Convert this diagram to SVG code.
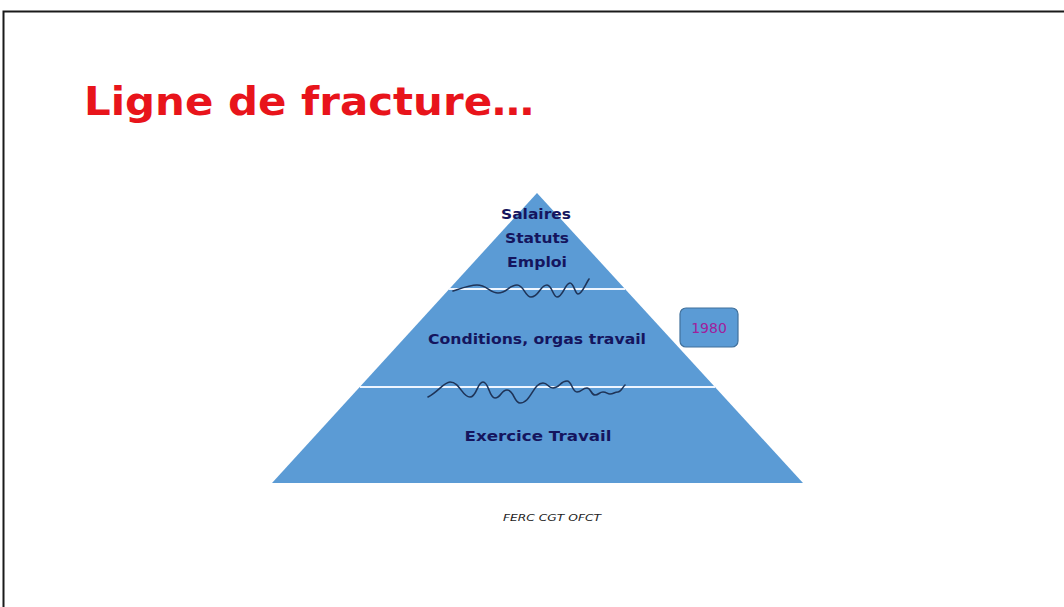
<svg xmlns="http://www.w3.org/2000/svg" width="1064" height="607" viewBox="0 0 1064 607">
  <style>
    .title { font-family: "DejaVu Sans", "Liberation Sans", sans-serif; font-weight: bold; font-size: 39px; fill: #e8141b; }
    .lbl { font-family: "DejaVu Sans", "Liberation Sans", sans-serif; font-weight: bold; fill: #15155e; text-anchor: middle; }
    .crack { fill: none; stroke: #1f3458; stroke-width: 1.6; stroke-linejoin: round; stroke-linecap: round; }
    .divider { stroke: #eef5ff; stroke-width: 2; }
  </style>
  <rect x="0" y="0" width="1064" height="607" fill="#ffffff"/>
  <!-- slide frame -->
  <path d="M3.5,607 V11.5 H1064" fill="none" stroke="#1a1a1a" stroke-width="2"/>

  <text class="title" x="84" y="115" textLength="450" lengthAdjust="spacingAndGlyphs">Ligne de fracture…</text>

  <g id="pyramid">
    <polygon points="537,193 803,483 272,483" fill="#5b9bd5"/>
    <line class="divider" x1="449" y1="289" x2="625" y2="289"/>
    <line class="divider" x1="360" y1="387" x2="715" y2="387"/>
  </g>

  <g id="tier-top">
    <text class="lbl" x="536" y="219" font-size="13.5" textLength="70" lengthAdjust="spacingAndGlyphs">Salaires</text>
    <text class="lbl" x="537" y="243" font-size="13.5" textLength="64" lengthAdjust="spacingAndGlyphs">Statuts</text>
    <text class="lbl" x="537" y="267" font-size="13.5" textLength="60" lengthAdjust="spacingAndGlyphs">Emploi</text>
  </g>
  <g id="tier-middle">
    <text class="lbl" x="537" y="344" font-size="13.5" textLength="218" lengthAdjust="spacingAndGlyphs">Conditions, orgas travail</text>
  </g>
  <g id="tier-base">
    <text class="lbl" x="538" y="441" font-size="14.5" textLength="147" lengthAdjust="spacingAndGlyphs">Exercice Travail</text>
  </g>

  <g id="connectors">
    <path class="crack" d="M453,291 C465,287 470,285 477,285 C487,285 490,293 498,293 C507,293 509,285 517,285 C524,285 525,297 531,297 C539,297 540,285 547,285 C552,285 553,297 557,297 C563,297 565,283 570,283 C574,283 575,294 578,294 C582,294 585,285 589,279"/>
    <path class="crack" d="M428,397 C438,392 444,382 450,382 C460,382 462,397 470,397 C477,397 477,382 483,382 C489,382 489,398 495,398 C501,398 501,390 507,390 C514,390 514,403 520,403 C531,403 533,383 543,383 C548,383 548,388 553,388 C560,388 560,381 567,381 C572,381 572,392 577,392 C582,392 582,388 587,388 C591,388 591,395 595,395 C599,395 599,392 603,392 C607,392 607,394 610,394 C614,394 614,392 618,392 C621,392 622,388 625,385"/>
  </g>

  <g id="year-1980">
    <rect x="680" y="308" width="58" height="39" rx="6" fill="#5b9bd5" stroke="#41719c" stroke-width="1.2"/>
    <text x="709" y="333" font-family="DejaVu Sans, Liberation Sans, sans-serif" font-size="14" fill="#a0209c" text-anchor="middle">1980</text>
  </g>

  <text x="552" y="521" font-family="DejaVu Sans, Liberation Sans, sans-serif" font-style="italic" font-size="8.5" fill="#222" text-anchor="middle" textLength="98" lengthAdjust="spacingAndGlyphs">FERC CGT OFCT</text>
</svg>
